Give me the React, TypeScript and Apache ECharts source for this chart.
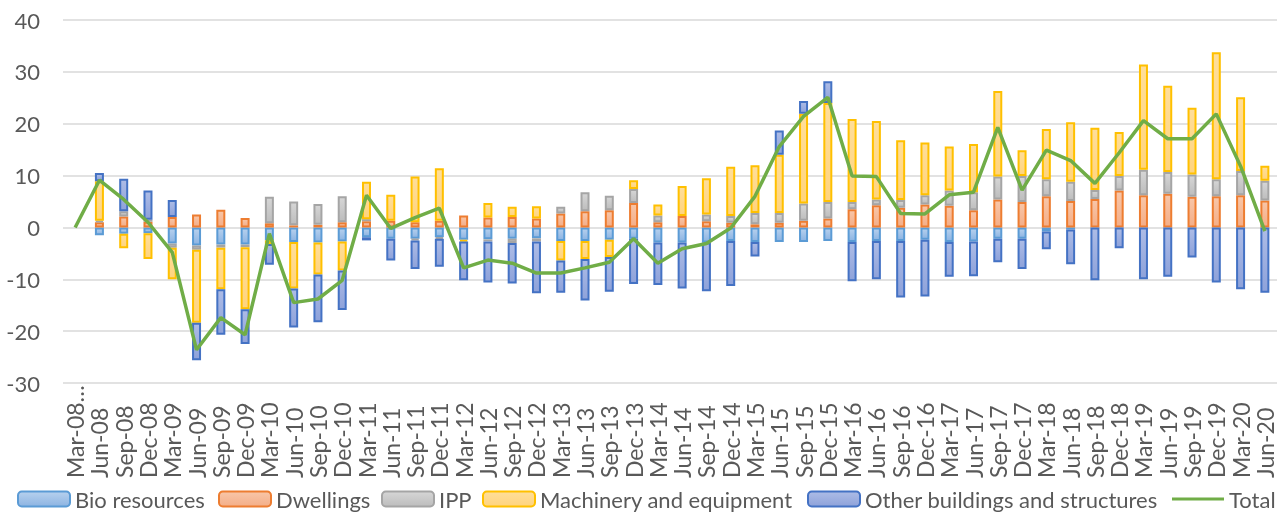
import React, { useEffect, useRef } from "react";
import * as echarts from "echarts";

const categories = [
  "Mar-08…", "Jun-08", "Sep-08", "Dec-08", "Mar-09", "Jun-09", "Sep-09", "Dec-09",
  "Mar-10", "Jun-10", "Sep-10", "Dec-10", "Mar-11", "Jun-11", "Sep-11", "Dec-11",
  "Mar-12", "Jun-12", "Sep-12", "Dec-12", "Mar-13", "Jun-13", "Sep-13", "Dec-13",
  "Mar-14", "Jun-14", "Sep-14", "Dec-14", "Mar-15", "Jun-15", "Sep-15", "Dec-15",
  "Mar-16", "Jun-16", "Sep-16", "Dec-16", "Mar-17", "Jun-17", "Sep-17", "Dec-17",
  "Mar-18", "Jun-18", "Sep-18", "Dec-18", "Mar-19", "Jun-19", "Sep-19", "Dec-19",
  "Mar-20", "Jun-20",
];

const bioResources = [
  null, -1.5, -1.2, -1.1, -3.1, -3.5, -3.3, -3.3,
  -2.5, -2.8, -2.9, -2.7, -1.9, -2.2, -2.2, -1.9,
  -2.4, -2.3, -2.2, -2.1, -2.6, -2.6, -2.4, -2.2,
  -2.9, -2.9, -2.9, -2.6, -2.8, -2.8, -2.8, -2.6,
  -2.8, -2.6, -2.6, -2.4, -2.8, -2.7, -2.2, -2.2,
  -0.8, -0.4, null, null, null, null, null, null,
  null, null,
];

const dwellings = [
  null, 1.0, 2.1, 1.1, 2.0, 2.5, 3.4, 1.8,
  0.8, 0.4, 0.5, 1.0, 1.2, 1.3, 1.0, 1.3,
  2.3, 1.9, 2.0, 1.7, 2.7, 3.1, 3.3, 4.7,
  1.0, 2.2, 1.2, 0.9, 0.6, 0.9, 1.3, 1.7,
  3.5, 4.3, 3.8, 4.4, 4.2, 3.3, 5.4, 4.9,
  6.0, 5.1, 5.5, 7.1, 6.2, 6.5, 5.9, 6.0,
  6.2, 5.2,
];

const ipp = [
  null, 0.3, 1.0, 0.4, -0.8, -0.8, -0.6, -0.5,
  5.1, 4.6, 4.0, 5.0, 0.4, null, -0.3, -0.3,
  null, -0.4, -0.8, -0.6, 1.3, 3.7, 2.8, 2.7,
  1.3, null, 1.3, 1.3, 2.2, 1.9, 3.3, 3.2,
  1.4, 1.1, 1.5, 1.8, 2.9, 3.5, 4.4, 5.0,
  3.3, 3.7, 1.7, 2.8, 4.9, 4.2, 4.3, 3.3,
  4.7, 3.8,
];

const machinery = [
  null, 7.6, -2.8, -5.0, -6.1, -14.1, -8.0, -12.0,
  -0.7, -9.0, -6.2, -5.6, 7.2, 5.0, 8.8, 10.1,
  -0.3, 2.8, 2.0, 2.4, -3.8, -3.5, -3.3, 1.7,
  2.1, 5.8, 7.0, 9.5, 9.2, 11.2, 17.3, 19.1,
  16.0, 15.1, 11.5, 10.2, 8.5, 9.3, 16.5, 5.0,
  9.7, 11.5, 12.0, 8.5, 20.3, 16.6, 12.9, 24.5,
  14.2, 2.9,
];

const otherBuildings = [
  null, 1.6, 6.3, 5.6, 3.3, -7.2, -8.8, -6.7,
  -4.0, -7.5, -9.2, -7.6, -0.6, -4.2, -5.5, -5.4,
  -7.5, -7.9, -7.8, -10.0, -6.2, -8.0, -6.7, -8.7,
  -8.2, -8.9, -9.4, -8.7, -2.8, 4.7, 2.5, 4.2,
  -7.6, -7.4, -10.9, -10.9, -6.7, -6.7, -4.5, -5.8,
  -3.4, -6.7, -10.2, -4.0, -10.0, -9.5, -5.8, -10.6,
  -11.9, -12.6,
];

const total = [
  0, 9.1, 5.4, 1.0, -4.8, -23.6, -17.4, -20.7,
  -1.2, -14.5, -13.8, -10.2, 6.2, -0.2, 1.9, 3.7,
  -7.8, -6.3, -6.9, -8.8, -8.8, -7.8, -6.7, -2.2,
  -6.9, -4.1, -3.1, -0.1, 6.0, 15.6, 21.4, 25.1,
  9.9, 9.8, 2.7, 2.6, 6.3, 6.8, 19.3, 7.2,
  14.9, 12.9, 8.5, 14.4, 20.6, 17.1, 17.1, 21.9,
  11.8, -0.7,
];

const yTicks = { min: -30, max: 40, interval: 10 };

const barDefs = [
  { name: "Bio resources", data: bioResources, border: "#5B9BD5", top: "#B7D1EE", bottom: "#8DB4E2" },
  { name: "Dwellings", data: dwellings, border: "#ED7D31", top: "#F8C6A8", bottom: "#F4AE88" },
  { name: "IPP", data: ipp, border: "#A5A5A5", top: "#D6D6D6", bottom: "#BDBDBD" },
  { name: "Machinery and equipment", data: machinery, border: "#FFC000", top: "#FFDE9A", bottom: "#FFD47E" },
  { name: "Other buildings and structures", data: otherBuildings, border: "#4472C4", top: "#ADBCE6", bottom: "#8EA2DA" },
];

const legendLefts = [17, 218, 381, 482, 807, 1172];

const FONT = "Lato";
const TXT = "#595959";

export default function App() {
  const ref = useRef<HTMLDivElement>(null);
  useEffect(() => {
    if (!ref.current) return;
    const chart = echarts.init(ref.current, null, { renderer: "svg" });
    const series: any[] = barDefs.map((d) => ({
      name: d.name,
      type: "bar",
      stack: "all",
      data: d.data,
      barWidth: 9,
      itemStyle: {
        color: new echarts.graphic.LinearGradient(0, 0, 0, 1, [
          { offset: 0, color: d.top },
          { offset: 1, color: d.bottom },
        ]),
        borderColor: d.border,
        borderWidth: 2,
      },
    }));
    series.push({
      name: "Total",
      type: "line",
      data: total,
      symbol: "none",
      z: 10,
      lineStyle: { color: "#70AD47", width: 3.5 },
      itemStyle: { color: "#70AD47" },
    });
    const legendNames = [...barDefs.map((d) => d.name), "Total"];
    const option: any = {
      animation: false,
      grid: { left: 63, right: 4, top: 20, bottom: 130, containLabel: false },
      xAxis: {
        type: "category",
        data: categories,
        axisLine: { show: false, onZero: false },
        axisTick: { show: false },
        axisLabel: {
          interval: 0,
          rotate: 90,
          align: "left",
          margin: 95,
          color: TXT,
          fontFamily: FONT,
          fontSize: 23,
        },
      },
      yAxis: {
        type: "value",
        min: yTicks.min,
        max: yTicks.max,
        interval: yTicks.interval,
        axisLine: { show: false },
        axisTick: { show: false },
        axisLabel: { color: TXT, fontFamily: FONT, fontSize: 22, margin: 23 },
        splitLine: { lineStyle: { color: "#D9D9D9", width: 1.5 } },
      },
      legend: legendNames.map((n, i) => {
        const isLine = n === "Total";
        return {
          data: [isLine ? { name: n, icon: "rect" } : n],
          left: legendLefts[i],
          top: 488,
          padding: 0,
          itemWidth: 52,
          itemHeight: isLine ? 3 : 15,
          textStyle: { color: TXT, fontFamily: FONT, fontSize: 22 },
        };
      }),
      series,
    };
    chart.setOption(option);
    return () => chart.dispose();
  }, []);
  return (
    <div
      ref={ref}
      style={{ position: "fixed", left: 0, top: 0, width: 1281, height: 513 }}
    />
  );
}
